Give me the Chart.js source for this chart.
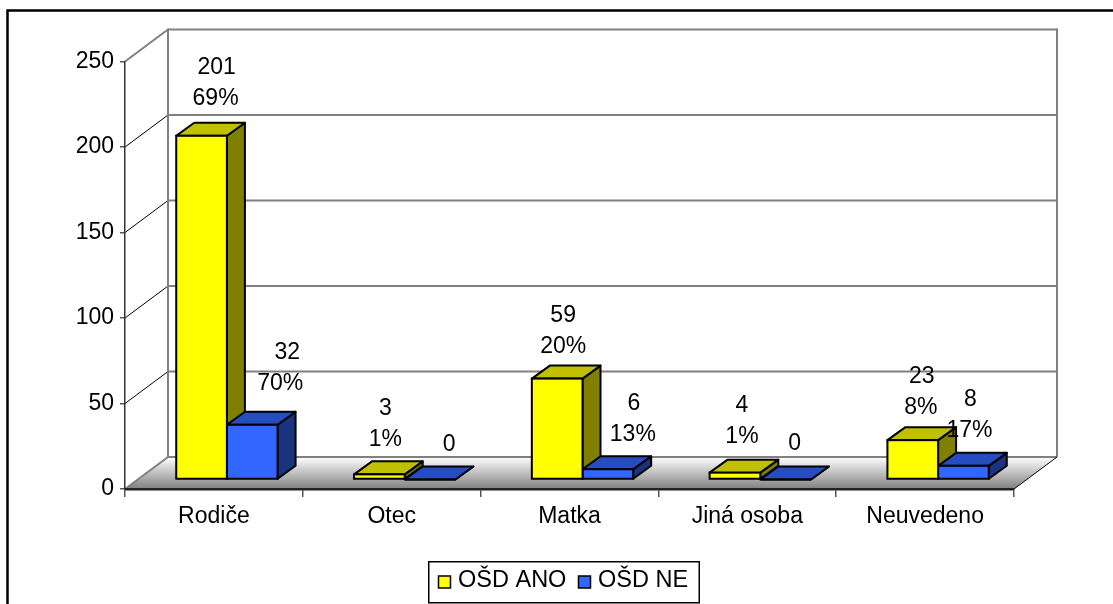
<!DOCTYPE html>
<html lang="cs">
<head>
<meta charset="utf-8">
<title>OŠD</title>
<script src="https://cdn.jsdelivr.net/npm/chart.js@4/dist/chart.umd.min.js"></script>
<style>
    html, body { margin: 0; background: #fff; overflow: hidden; }
    canvas { display: block; }
</style>
</head>
<body>
<canvas id="chartOsd" width="1113" height="604"></canvas>
<script>
const categories = ['Rodiče', 'Otec', 'Matka', 'Jiná osoba', 'Neuvedeno'];
const osdAno = [201, 3, 59, 4, 23];
const osdNe = [32, 0, 6, 0, 8];
const osdAnoPct = ['69%', '1%', '20%', '1%', '8%'];
const osdNePct = ['70%', null, '13%', null, '17%'];
const yTicks = [0, 50, 100, 150, 200, 250];

// hand placed data labels, px from the middle of each bar's front top edge
const nudgeValueX = [[15, 6, 6, 7, 9], [35, 19, 26, 9, 7]];
const nudgePctX = [[14, 6, 6, 7, 8], [28, 19, 25, 9, 6]];
const nudgeRise = [[37, 35, 32, 36, 33], [41, 35, 35, 36, 35]];

const FONT_FAMILY = '"Liberation Sans", Arial, sans-serif';
const LINE_GAP = 31;
const WALL = { dx: 43, dy: -32 };
const BAR_SHIFT = { dx: 13, dy: -9.5 };
const BAR_DEPTH = { dx: 18, dy: -13 };

const faces = [
    { front: '#ffff00', top: '#c0c000', side: '#808000' },
    { front: '#3366ff', top: '#264dbf', side: '#19337f' },
];

const line = (ctx, x1, y1, x2, y2) => {
    ctx.beginPath();
    ctx.moveTo(x1, y1);
    ctx.lineTo(x2, y2);
    ctx.stroke();
};

// outer frame, back wall, side wall and the shaded floor
const walls = {
    id: 'walls',
    beforeDraw(chart) {
        const { ctx, chartArea: area, scales: { y } } = chart;
        const base = y.getPixelForValue(0);
        ctx.save();
        ctx.fillStyle = '#fff';
        ctx.fillRect(0, 0, chart.width, chart.height);

        ctx.strokeStyle = '#000';
        ctx.lineWidth = 2.5;
        ctx.beginPath();
        ctx.moveTo(7.5, chart.height);
        ctx.lineTo(7.5, 10.5);
        ctx.lineTo(chart.width, 10.5);
        ctx.stroke();

        const floor = ctx.createLinearGradient(0, base + WALL.dy, 0, base);
        floor.addColorStop(0, '#ffffff');
        floor.addColorStop(1, '#808080');
        ctx.fillStyle = floor;
        ctx.beginPath();
        ctx.moveTo(area.left, base);
        ctx.lineTo(area.left + WALL.dx, base + WALL.dy);
        ctx.lineTo(area.right + WALL.dx, base + WALL.dy);
        ctx.lineTo(area.right, base);
        ctx.closePath();
        ctx.fill();

        yTicks.forEach((tick) => {
            const py = y.getPixelForValue(tick);
            const edge = tick === 0 || tick === 250;
            ctx.strokeStyle = edge ? '#808080' : '#000';
            ctx.lineWidth = edge ? 2 : 1;
            line(ctx, area.left, py, area.left + WALL.dx, py + WALL.dy);
            ctx.strokeStyle = '#808080';
            ctx.lineWidth = 2;
            line(ctx, area.left + WALL.dx, py + WALL.dy, area.right + WALL.dx, py + WALL.dy);
        });

        const backX = area.left + WALL.dx;
        const rightX = area.right + WALL.dx;
        const backTop = y.getPixelForValue(250) + WALL.dy - 1;
        line(ctx, backX, backTop, backX, base + WALL.dy);
        line(ctx, rightX, backTop, rightX, base + WALL.dy);
        ctx.strokeStyle = '#000';
        ctx.lineWidth = 1;
        line(ctx, area.right, base, rightX, base + WALL.dy);
        ctx.restore();
    },
};

// bars stand a little behind the front edge of the floor; top and side faces
// go down first, the library then paints the front faces over them
const bars3d = {
    id: 'bars3d',
    beforeDatasetsDraw(chart) {
        const { ctx } = chart;
        const { dx, dy } = BAR_DEPTH;
        ctx.save();
        ctx.translate(BAR_SHIFT.dx, BAR_SHIFT.dy);
        ctx.lineWidth = 2;
        ctx.strokeStyle = '#000';
        ctx.lineJoin = 'round';
        chart.data.datasets.forEach((dataset, d) => {
            chart.getDatasetMeta(d).data.forEach((bar) => {
                const left = bar.x - bar.width / 2;
                const right = bar.x + bar.width / 2;

                ctx.fillStyle = faces[d].side;
                ctx.beginPath();
                ctx.moveTo(right, bar.y);
                ctx.lineTo(right + dx, bar.y + dy);
                ctx.lineTo(right + dx, bar.base + dy);
                ctx.lineTo(right, bar.base);
                ctx.closePath();
                ctx.fill();
                ctx.stroke();

                ctx.fillStyle = faces[d].top;
                ctx.beginPath();
                ctx.moveTo(left, bar.y);
                ctx.lineTo(left + dx, bar.y + dy);
                ctx.lineTo(right + dx, bar.y + dy);
                ctx.lineTo(right, bar.y);
                ctx.closePath();
                ctx.fill();
                ctx.stroke();
            });
        });
        ctx.restore();
    },
    beforeDatasetDraw(chart) {
        chart.ctx.save();
        chart.ctx.translate(BAR_SHIFT.dx, BAR_SHIFT.dy);
    },
    // outline sits on the bar's edge, so a zero value still leaves a line
    afterDatasetDraw(chart, args) {
        const { ctx } = chart;
        ctx.lineWidth = 2;
        ctx.strokeStyle = '#000';
        args.meta.data.forEach((bar) => {
            ctx.strokeRect(bar.x - bar.width / 2, bar.y, bar.width, bar.base - bar.y);
        });
        ctx.restore();
    },
};

// value and share above each bar, then the boxed legend
const annotations = {
    id: 'annotations',
    afterDatasetsDraw(chart) {
        const { ctx } = chart;
        const pct = [osdAnoPct, osdNePct];
        ctx.save();
        ctx.font = '23px ' + FONT_FAMILY;
        ctx.fillStyle = '#000';
        ctx.textAlign = 'center';
        ctx.textBaseline = 'middle';
        chart.data.datasets.forEach((dataset, d) => {
            chart.getDatasetMeta(d).data.forEach((bar, i) => {
                const cx = bar.x + BAR_SHIFT.dx;
                const cy = bar.y + BAR_SHIFT.dy - nudgeRise[d][i];
                if (pct[d][i]) {
                    ctx.fillText(pct[d][i], cx + nudgePctX[d][i], cy);
                    ctx.fillText(dataset.data[i], cx + nudgeValueX[d][i], cy - LINE_GAP);
                } else {
                    ctx.fillText(dataset.data[i], cx + nudgeValueX[d][i], cy);
                }
            });
        });

        ctx.strokeStyle = '#000';
        ctx.lineWidth = 1.5;
        ctx.strokeRect(428.75, 561.75, 270.5, 41);
        ctx.textAlign = 'left';
        ctx.font = '23.5px ' + FONT_FAMILY;
        [438.5, 578.5].forEach((x, d) => {
            ctx.fillStyle = faces[d].front;
            ctx.fillRect(x, 576, 12, 12);
            ctx.strokeRect(x, 576, 12, 12);
            ctx.fillStyle = '#000';
            ctx.fillText(chart.data.datasets[d].label, x + 19.5, 581);
        });
        ctx.restore();
    },
};

new Chart(document.getElementById('chartOsd'), {
    type: 'bar',
    data: {
        labels: categories,
        datasets: [
            { label: 'OŠD ANO', data: osdAno, backgroundColor: faces[0].front },
            { label: 'OŠD NE', data: osdNe, backgroundColor: faces[1].front },
        ],
    },
    plugins: [walls, bars3d, annotations],
    options: {
        responsive: false,
        animation: false,
        layout: { padding: { left: 0, top: 61.5, right: 99, bottom: 0 } },
        datasets: {
            bar: {
                categoryPercentage: 0.57,
                barPercentage: 1,
                borderWidth: 0,
                clip: false,
            },
        },
        plugins: {
            legend: { display: false },
            tooltip: { enabled: false },
        },
        scales: {
            x: {
                afterFit: (scale) => { scale.height = 115; },
                grid: {
                    drawOnChartArea: false,
                    tickLength: 8,
                    color: '#555',
                    lineWidth: 1.5,
                },
                border: { color: '#222', width: 2.5 },
                ticks: { color: '#000', font: { family: FONT_FAMILY, size: 23 }, padding: 6, maxRotation: 0 },
            },
            y: {
                min: 0,
                max: 250,
                afterFit: (scale) => { scale.width = 125; },
                grid: {
                    drawOnChartArea: false,
                    tickLength: 5,
                    color: '#555',
                    lineWidth: 1.5,
                },
                border: { color: '#333', width: 1.5 },
                afterBuildTicks: (scale) => { scale.ticks = yTicks.map((value) => ({ value })); },
                ticks: { color: '#000', font: { family: FONT_FAMILY, size: 23 }, padding: 6 },
            },
        },
    },
});
</script>
</body>
</html>
